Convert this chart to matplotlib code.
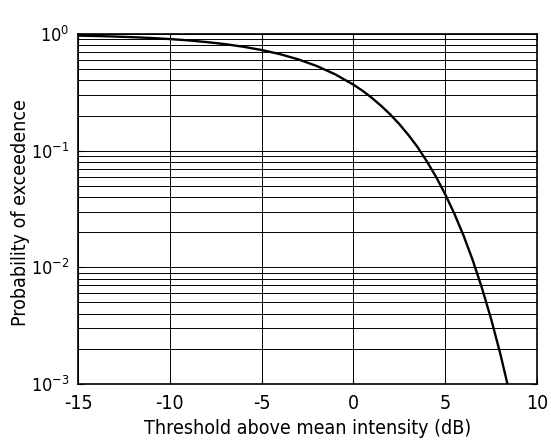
import numpy as np
import matplotlib.pyplot as plt
from matplotlib.ticker import LogLocator

plt.rcParams['font.family'] = ['DejaVu Sans']
plt.rcParams['font.stretch'] = 'condensed'
plt.rcParams['mathtext.fontset'] = 'custom'
plt.rcParams['mathtext.rm'] = 'DejaVu Sans:stretch=condensed'

# threshold (dB) vs probability of exceedance
thresh = [-15, -14, -13, -12, -11, -10, -9, -8, -7, -6, -5, -4, -3, -2, -1,
          0, 0.5, 1, 1.5, 2, 2.5, 3, 3.5, 4, 4.5, 5, 5.5, 6, 6.5, 7, 7.5, 8, 8.39]
prob = [0.969, 0.961, 0.951, 0.939, 0.924, 0.905, 0.882, 0.853, 0.819, 0.778,
        0.729, 0.672, 0.606, 0.532, 0.452, 0.368, 0.326, 0.284, 0.243, 0.205,
        0.169, 0.136, 0.107, 0.081, 0.0597, 0.0423, 0.0288, 0.0187, 0.0115,
        0.00666, 0.00361, 0.00182, 0.00100]

xticks = [-15, -10, -5, 0, 5, 10]
ydecades = [1e-3, 1e-2, 1e-1, 1e0]
ylabels = [r'$10^{-3}$', r'$10^{-2}$', r'$10^{-1}$', r'$10^{0}$']

fig = plt.figure(figsize=(5.51, 4.41), dpi=100)
ax = fig.add_axes([78/551, 1 - 384/441, (537-78)/551, (384-34)/441])

ax.semilogy(thresh, prob, color='black', lw=1.7)

ax.set_xlim(-15, 10)
ax.set_ylim(1e-3, 1)
ax.set_xticks(xticks)
ax.set_xticklabels([str(t) for t in xticks])
ax.set_yticks(ydecades)
ax.set_yticklabels(ylabels)
ax.yaxis.set_minor_locator(LogLocator(base=10, subs=np.arange(2, 10)))
ax.yaxis.set_minor_formatter(plt.NullFormatter())

ax.grid(True, axis='x', which='major', color='black', lw=0.7)
ax.grid(True, axis='y', which='both', color='black', lw=0.7)

ax.tick_params(which='both', direction='in', top=True, right=True, length=4)
ax.tick_params(axis='x', pad=7, labelsize=14)
ax.tick_params(axis='y', pad=6, labelsize=13)
ax.tick_params(which='minor', length=2)
for s in ax.spines.values():
    s.set_linewidth(1.2)

ax.set_xlabel('Threshold above mean intensity (dB)', fontsize=14)
ax.set_ylabel('Probability of exceedence', fontsize=14)
ax.xaxis.set_label_coords(0.5, -0.1)
ax.yaxis.set_label_coords(-0.105, 0.49)

fig.savefig('out.png', dpi=100)
